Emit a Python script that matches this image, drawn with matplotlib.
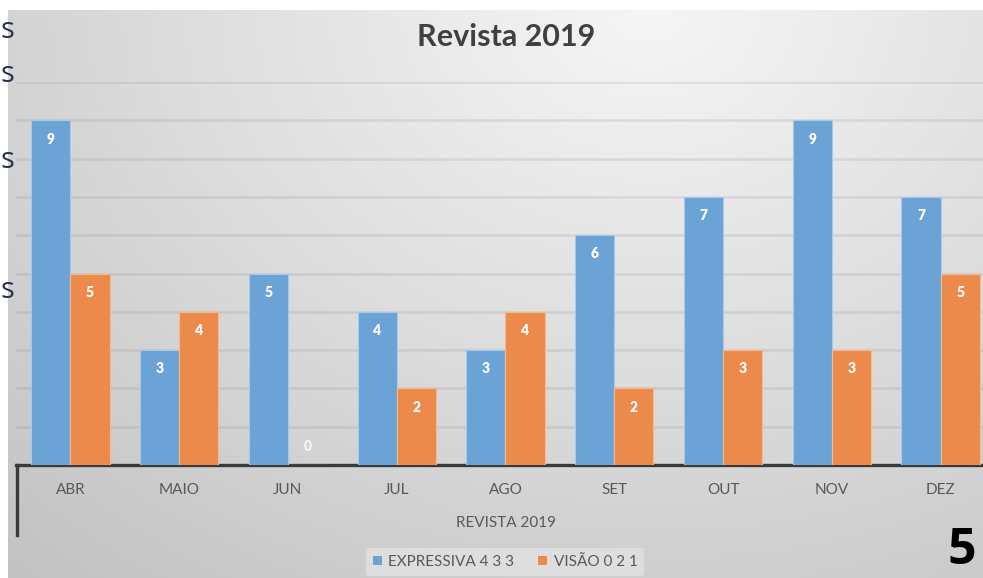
import numpy as np
import matplotlib
matplotlib.use("Agg")
import matplotlib.pyplot as plt
from matplotlib.patches import Patch
from matplotlib.lines import Line2D

categories = ["ABR", "MAIO", "JUN", "JUL", "AGO", "SET", "OUT", "NOV", "DEZ"]
expressiva = [9, 3, 5, 4, 3, 6, 7, 9, 7]
visao = [5, 4, 0, 2, 4, 2, 3, 3, 5]
series_names = ["EXPRESSIVA 4 3 3", "VISÃO 0 2 1"]
title = "Revista 2019"
group_label = "REVISTA 2019"

W, H = 983, 578
plt.rcParams['font.family'] = ['Lato', 'DejaVu Sans']
fig = plt.figure(figsize=(W / 100, H / 100), dpi=100)
fig.patch.set_facecolor('white')

# background gradient of the chart area
bg = fig.add_axes([8 / W, 0, 1 - 8 / W, 1 - 10 / H], zorder=0)
yy, xx = np.mgrid[0:568, 0:975]
cx, cy = 640, 0
d = np.sqrt(((xx - cx) / 900.0) ** 2 + ((yy - cy) / 700.0) ** 2)
g = 0.965 - 0.19 * np.clip(d, 0, 1.2)
img = np.dstack([g, g, g])
bg.imshow(img, aspect='auto', extent=[0, 1, 0, 1], origin='upper')
bg.set_axis_off()

blue = '#6CA3D6'
orange = '#EC8A4B'

ax = fig.add_axes([16 / W, 113 / H, 979 / W, 383 / H], zorder=2)
ax.patch.set_alpha(0)
x = np.arange(len(categories))
bw = 0.36
b1 = ax.bar(x - bw / 2, expressiva, bw, color=blue, edgecolor='#A9C9E8', linewidth=0.8, zorder=3)
b2 = ax.bar(x + bw / 2, visao, bw, color=orange, edgecolor='#F3B98F', linewidth=0.8, zorder=3)
ax.set_xlim(-0.5, len(categories) - 0.5)
ax.set_ylim(0, 10)
ax.set_yticks(range(0, 11))
ax.yaxis.grid(True, color='#7A7A7A', alpha=0.17, linewidth=1.8, zorder=1)
ax.set_axisbelow(True)
for s in ['top', 'right', 'left']:
    ax.spines[s].set_visible(False)
ax.spines['bottom'].set_color('#3A3A3A')
ax.spines['bottom'].set_linewidth(2.4)
ax.tick_params(left=False, labelleft=False, bottom=False, labelbottom=False)

for bars, vals in ((b1, expressiva), (b2, visao)):
    for rect, v in zip(bars, vals):
        off = 13 if v == 0 else -13.5
        ax.annotate(str(v), xy=(rect.get_x() + rect.get_width() / 2, v),
                    xytext=(0, off), textcoords='offset points',
                    ha='center', va='center', color='white',
                    fontsize=10, fontweight='heavy', zorder=4,
                    alpha=0.8 if v == 0 else 1)

for i, c in enumerate(categories):
    ax.annotate(c, xy=(i, 0), xycoords=('data', 'axes fraction'),
                xytext=(0, -25 * 0.72), textcoords='offset points',
                ha='center', va='center', color='#595959', fontsize=11)

ax.annotate(group_label, xy=((len(categories) - 1) / 2, 0), xycoords=('data', 'axes fraction'),
            xytext=(0, -58 * 0.72), textcoords='offset points',
            ha='center', va='center', color='#595959', fontsize=11)

# multi-level axis left border
fig.add_artist(Line2D([17 / W, 17 / W], [1 - 465 / H, 1 - 535 / H],
                      color='#3A3A3A', linewidth=2.4, zorder=5))

fig.suptitle(title, x=506 / W, y=1 - 37 / H, va='center', fontsize=22,
             fontweight='bold', color='#404040')

handles = [Patch(facecolor=blue), Patch(facecolor=orange)]
leg = fig.legend(handles, series_names, loc='center', bbox_to_anchor=(505 / W, 1 - 562 / H),
                 ncol=2, frameon=True, fontsize=11, handlelength=0.6, handleheight=0.6,
                 handletextpad=0.4, columnspacing=1.6, borderpad=0.45)
leg.get_frame().set_facecolor('#E2E2E2')
leg.get_frame().set_edgecolor('none')
leg.get_frame().set_alpha(0.8)
for t in leg.get_texts():
    t.set_color('#595959')

# artifacts from the surrounding slide
for yp in (30, 75, 160, 290):
    fig.text(0, 1 - yp / H, 's', ha='left', va='center', fontsize=21,
             color='#26324D', family='Open Sans', zorder=6)
fig.text(947 / W, 2 / H, '5', ha='left', va='bottom', fontsize=36,
         fontweight='bold', color='black', family='Open Sans')

fig.savefig('out.png', dpi=100)
